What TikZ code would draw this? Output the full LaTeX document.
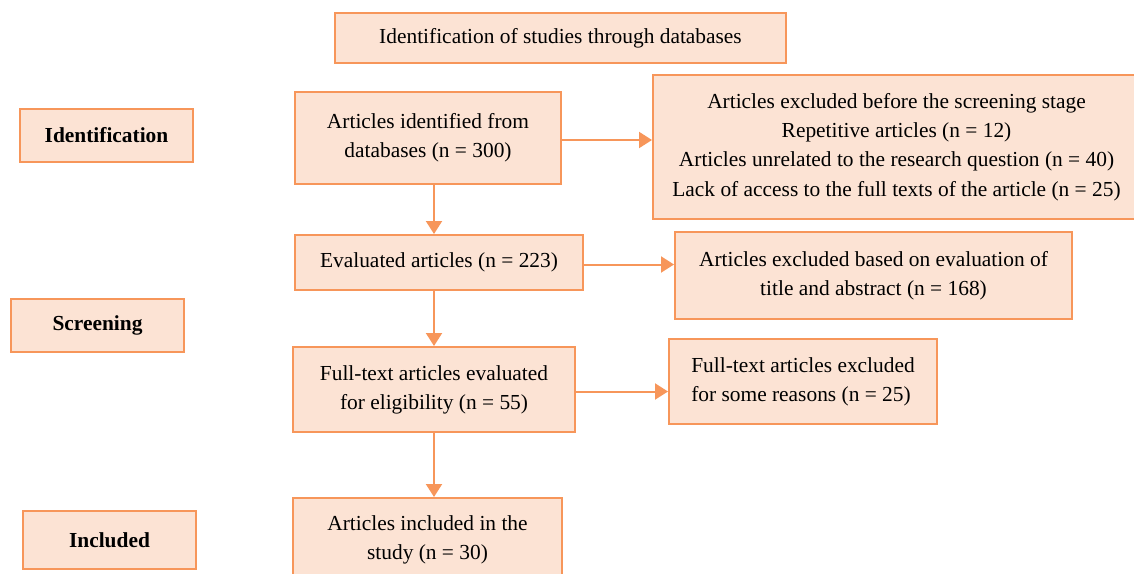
\documentclass[tikz,border=0pt]{standalone}
\usepackage{fontspec}
\setmainfont{Liberation Serif}
\usepackage{tikz}
\usetikzlibrary{arrows.meta, calc}
\definecolor{boxFill}{RGB}{252, 227, 212}
\definecolor{boxLine}{RGB}{247, 150, 90}

\begin{document}
\begin{tikzpicture}[
    x=0.5pt, y=-0.5pt,
    font=\fontsize{10.7}{14.6}\selectfont,
    box/.style={rectangle, draw=boxLine, line width=1pt, fill=boxFill, align=center,
        inner sep=2pt, text=black},
    lab/.style={box, font=\fontsize{10.7}{14.6}\selectfont\bfseries},
    arr/.style={-{Triangle[length=6.5pt, width=8pt]}, line width=1pt, boxLine}
]
\useasboundingbox (0,0) rectangle (1134,573);
\node[box, minimum width=225.5pt, minimum height=25pt] (title) at (560.5,38) {Identification of studies through databases};

\node[lab, minimum width=86.5pt, minimum height=26.5pt] (idlab)  at (106.5,135.5) {Identification};
\node[lab, minimum width=86.5pt, minimum height=26.5pt] (scrlab) at (97.5,325.5)  {Screening};
\node[lab, minimum width=86.5pt, minimum height=29pt]   (inclab) at (109.5,540)   {Included};

\node[box, minimum width=133pt, minimum height=46pt]   (idf)  at (428,138)     {Articles identified from\\databases (n = 300)};
\node[box, minimum width=243.5pt, minimum height=72pt] (exc1) at (896.5,147)   {Articles excluded before the screening stage\\Repetitive articles (n = 12)\\Articles unrelated to the research question (n = 40)\\Lack of access to the full texts of the article (n = 25)};
\node[box, minimum width=144pt, minimum height=27.5pt] (eva)  at (439,262.5)   {Evaluated articles (n = 223)};
\node[box, minimum width=198.5pt, minimum height=43.5pt] (exc2) at (873.5,275.5) {Articles excluded based on evaluation of\\title and abstract (n = 168)};
\node[box, minimum width=141pt, minimum height=42.5pt] (fte)  at (434,389.5)   {Full-text articles evaluated\\for eligibility (n = 55)};
\node[box, minimum width=134pt, minimum height=42.5pt, align=left] (exc3) at (803,381.5) {Full-text articles excluded\\for some reasons (n = 25)};
\node[box, minimum width=134.5pt, minimum height=42pt] (inc)  at (427.5,540)   {Articles included in the\\study (n = 30)};

% side arrows
\foreach \a/\b in {idf/exc1, eva/exc2, fte/exc3}
    \draw[arr] ([yshift=-1pt]\a.east) -- ([yshift=-1pt]\a.east -| \b.west);
% main column
\foreach \a/\b in {idf/eva, eva/fte, fte/inc}
    \draw[arr] (\a.south -| fte.north) -- (\b.north -| fte.north);
\end{tikzpicture}
\end{document}
